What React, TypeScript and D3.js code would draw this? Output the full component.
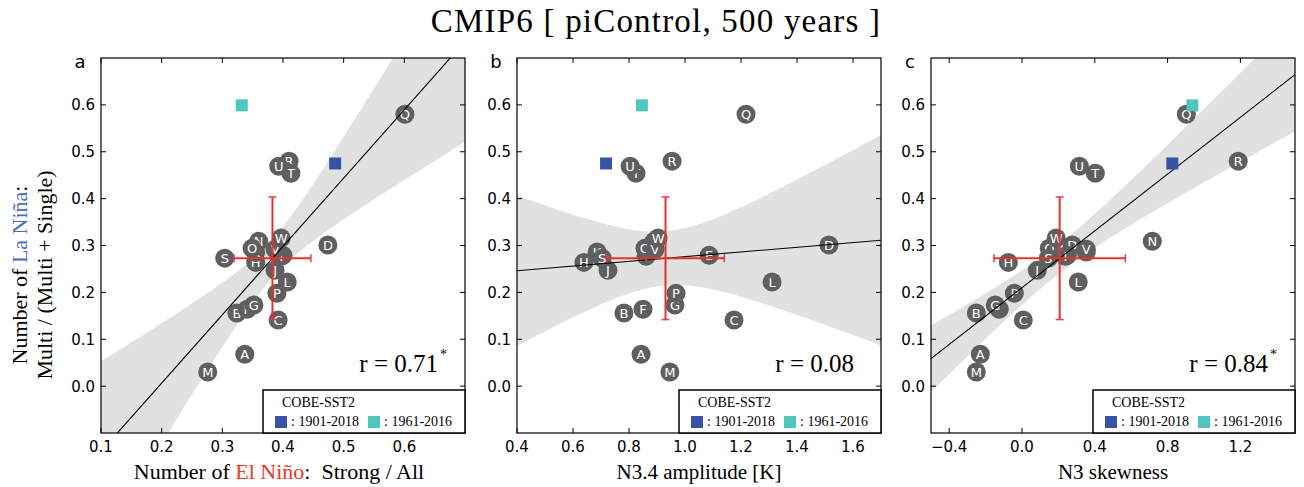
import React from 'react';
import * as d3 from 'd3';

// ---------------- data ----------------
const models = ['A','B','C','D','E','F','G','H','I','J','K','L','M','N','O','P','Q','R','S','T','U','V','W'];
// y: Number of La Nina: Multi / (Multi + Single)
const laNinaMultiFrac = [0.068,0.156,0.141,0.301,0.279,0.164,0.173,0.264,0.277,0.247,0.286,0.222,0.030,0.309,0.294,0.198,0.580,0.480,0.273,0.454,0.469,0.292,0.316];
// panel a x: Number of El Nino: Strong / All
const elNinoStrongFrac = [0.337,0.324,0.392,0.474,0.400,0.341,0.352,0.355,0.397,0.387,0.355,0.407,0.276,0.360,0.349,0.390,0.601,0.410,0.304,0.413,0.393,0.387,0.397];
// panel b x: N3.4 amplitude [K]
const n34Amplitude = [0.843,0.782,1.175,1.514,1.086,0.850,0.964,0.639,0.861,0.725,0.686,1.311,0.946,0.890,0.857,0.968,1.218,0.954,0.704,0.825,0.804,0.893,0.904];
// panel c x: N3 skewness
const n3Skewness = [-0.229,-0.251,0.007,0.276,0.249,-0.125,-0.147,-0.075,0.238,0.084,0.353,0.309,-0.251,0.716,0.150,-0.042,0.903,1.188,0.145,0.403,0.315,0.353,0.188];

// observations (COBE-SST2)
const obsPeriods = ['1901-2018','1961-2016'];
const obsLaNina = [0.475, 0.599];
const obsElNinoStrong = [0.486, 0.332];
const obsN34Amp = [0.718, 0.846];
const obsN3Skew = [0.826, 0.936];

const rLabels = ['0.71','0.08','0.84'];
const rSignificant = [true, false, true];
const panelLetters = ['a','b','c'];
const xTicksA = [0.1,0.2,0.3,0.4,0.5,0.6];
const xTicksB = [0.4,0.6,0.8,1.0,1.2,1.4,1.6];
const xTicksC = [-0.4,0.0,0.4,0.8,1.2];
const yTicks = [0.0,0.1,0.2,0.3,0.4,0.5,0.6];

// ---------------- style / layout ----------------
const W = 1304, H = 487;
const TOP = 58, PH = 375, PW = 364;
const LEFTS = [101, 517, 931];
const XDOMAINS: [number, number][] = [[0.1,0.7],[0.4,1.7],[-0.5,1.5]];
const YDOMAIN: [number, number] = [-0.1, 0.7];
const OBS_COLORS = ['#3753a8', '#4fc7bf'];
const DOT = '#5f5f5f';
const BAND = '#e1e1e1';
const RED = '#e8302c';
const CAP = '#f0306a';
const SERIF = '"Liberation Serif", "Times New Roman", serif';
const SANS = '"DejaVu Sans", sans-serif';
const T_CRIT = 2.080; // t(0.975, 21)

function fit(xs: number[], ys: number[]) {
  const n = xs.length;
  const mx = d3.mean(xs)!, my = d3.mean(ys)!;
  let sxx = 0, sxy = 0;
  xs.forEach((x, i) => { sxx += (x - mx) ** 2; sxy += (x - mx) * (ys[i] - my); });
  const b = sxy / sxx, a = my - b * mx;
  let sse = 0;
  xs.forEach((x, i) => { sse += (ys[i] - a - b * x) ** 2; });
  const s = Math.sqrt(sse / (n - 2));
  return { n, mx, my, sxx, a, b, s };
}

function Panel({ idx, xs, obsX, xTicks }: { idx: number; xs: number[]; obsX: number[]; xTicks: number[] }) {
  const left = LEFTS[idx];
  const x = d3.scaleLinear().domain(XDOMAINS[idx]).range([left, left + PW]);
  const y = d3.scaleLinear().domain(YDOMAIN).range([TOP + PH, TOP]);
  const f = fit(xs, laNinaMultiFrac);
  const grid = d3.range(0, 101).map(i => XDOMAINS[idx][0] + (XDOMAINS[idx][1] - XDOMAINS[idx][0]) * i / 100);
  const band = d3.area<number>()
    .x(d => x(d))
    .y0(d => y(f.a + f.b * d - T_CRIT * f.s * Math.sqrt(1 / f.n + (d - f.mx) ** 2 / f.sxx)))
    .y1(d => y(f.a + f.b * d + T_CRIT * f.s * Math.sqrt(1 / f.n + (d - f.mx) ** 2 / f.sxx)));
  const line = d3.line<number>().x(d => x(d)).y(d => y(f.a + f.b * d));
  const sdx = d3.deviation(xs)!, sdy = d3.deviation(laNinaMultiFrac)!;
  const mx = d3.mean(xs)!, my = d3.mean(laNinaMultiFrac)!;
  const clipId = `clip${idx}`;
  const fmt = d3.format('.1f');
  const tl = 5;
  const capH = 4;
  const legL = left + 162, legT = 390;
  return (
    <g>
      <defs>
        <clipPath id={clipId}><rect x={left} y={TOP} width={PW} height={PH} /></clipPath>
      </defs>
      <g clipPath={`url(#${clipId})`}>
        <path d={band(grid)!} fill={BAND} />
        {xs.map((xv, i) => (
          <g key={models[i]}>
            <circle cx={x(xv)} cy={y(laNinaMultiFrac[i])} r={9.5} fill={DOT} />
            <text x={x(xv)} y={y(laNinaMultiFrac[i]) + 4.5} textAnchor="middle" fontFamily={SANS} fontSize={13} fill="#fff">{models[i]}</text>
          </g>
        ))}
        <path d={line([XDOMAINS[idx][0], XDOMAINS[idx][1]])!} stroke="#000" strokeWidth={1.1} fill="none" />
        {/* model mean +- std */}
        <line x1={x(mx)} x2={x(mx)} y1={y(my - sdy)} y2={y(my + sdy)} stroke={RED} strokeWidth={2} />
        <line x1={x(mx - sdx)} x2={x(mx + sdx)} y1={y(my)} y2={y(my)} stroke={RED} strokeWidth={2} />
        <line x1={x(mx) - capH} x2={x(mx) + capH} y1={y(my - sdy)} y2={y(my - sdy)} stroke={CAP} strokeWidth={1.5} />
        <line x1={x(mx) - capH} x2={x(mx) + capH} y1={y(my + sdy)} y2={y(my + sdy)} stroke={CAP} strokeWidth={1.5} />
        <line x1={x(mx - sdx)} x2={x(mx - sdx)} y1={y(my) - capH} y2={y(my) + capH} stroke={CAP} strokeWidth={1.5} />
        <line x1={x(mx + sdx)} x2={x(mx + sdx)} y1={y(my) - capH} y2={y(my) + capH} stroke={CAP} strokeWidth={1.5} />
        {obsX.map((ox, j) => (
          <rect key={j} x={x(ox) - 6} y={y(obsLaNina[j]) - 6} width={12} height={12} fill={OBS_COLORS[j]} />
        ))}
      </g>
      {/* ticks */}
      {xTicks.map(t => (
        <g key={`xt${t}`}>
          <line x1={x(t)} x2={x(t)} y1={TOP + PH} y2={TOP + PH - tl} stroke="#000" />
          <line x1={x(t)} x2={x(t)} y1={TOP} y2={TOP + tl} stroke="#000" />
          <text x={x(t)} y={TOP + PH + 19} textAnchor="middle" fontFamily={SANS} fontSize={15} fill="#000">{fmt(t)}</text>
        </g>
      ))}
      {yTicks.map(t => (
        <g key={`yt${t}`}>
          <line x1={left} x2={left + tl} y1={y(t)} y2={y(t)} stroke="#000" />
          <line x1={left + PW} x2={left + PW - tl} y1={y(t)} y2={y(t)} stroke="#000" />
          <text x={left - 6} y={y(t) + 5.5} textAnchor="end" fontFamily={SANS} fontSize={15} fill="#000">{fmt(t)}</text>
        </g>
      ))}
      <rect x={left} y={TOP} width={PW} height={PH} fill="none" stroke="#000" strokeWidth={1.2} />
      {/* r label */}
      <text x={left + PW - 27} y={372} textAnchor="end" fontFamily={SERIF} fontSize={25} fill="#000">{`r = ${rLabels[idx]}`}</text>
      {rSignificant[idx] && (
        <text x={left + PW - 25} y={359} fontFamily={SERIF} fontSize={14} fill="#000">*</text>
      )}
      {/* legend */}
      <rect x={legL} y={legT} width={left + PW - legL} height={TOP + PH - legT} fill="#fff" stroke="#000" strokeWidth={1.5} />
      <text x={legL + 19} y={legT + 17} fontFamily={SERIF} fontSize={14} fill="#000">COBE-SST2</text>
      {obsPeriods.map((p, j) => (
        <g key={p}>
          <rect x={legL + 12 + j * 93} y={legT + 26} width={12} height={12} fill={OBS_COLORS[j]} />
          <text x={legL + 28 + j * 93} y={legT + 36} fontFamily={SERIF} fontSize={14} fill="#000">{`: ${p}`}</text>
        </g>
      ))}
      <text x={left - 21} y={68} textAnchor="middle" fontFamily={SANS} fontSize={18} fill="#000">{panelLetters[idx]}</text>
    </g>
  );
}

export default function App() {
  return (
    <svg width={W} height={H} style={{ position: 'absolute', left: 0, top: 0, background: '#fff' }}>
      <rect x={0} y={0} width={W} height={H} fill="#fff" />
      <text x={656} y={32} textAnchor="middle" fontFamily={SERIF} fontSize={33} letterSpacing={1.2} fill="#000" style={{ whiteSpace: 'pre' }}>CMIP6 [ piControl, 500 years ]</text>
      <Panel idx={0} xs={elNinoStrongFrac} obsX={obsElNinoStrong} xTicks={xTicksA} />
      <Panel idx={1} xs={n34Amplitude} obsX={obsN34Amp} xTicks={xTicksB} />
      <Panel idx={2} xs={n3Skewness} obsX={obsN3Skew} xTicks={xTicksC} />
      {/* x labels */}
      <text x={LEFTS[0] + PW / 2 - 4} y={479} textAnchor="middle" fontFamily={SERIF} fontSize={22} fill="#000" style={{ whiteSpace: 'pre' }}>
        Number of <tspan fill="#e8392b">El Niño</tspan>{':  Strong / All'}
      </text>
      <text x={LEFTS[1] + PW / 2} y={479} textAnchor="middle" fontFamily={SERIF} fontSize={21} fill="#000">N3.4 amplitude [K]</text>
      <text x={LEFTS[2] + PW / 2} y={479} textAnchor="middle" fontFamily={SERIF} fontSize={21} fill="#000">N3 skewness</text>
      {/* y label */}
      <text transform="translate(27,275) rotate(-90)" textAnchor="middle" fontFamily={SERIF} fontSize={22} fill="#000">
        Number of <tspan fill="#4a6cc0">La Niña</tspan>:
      </text>
      <text transform="translate(52,275) rotate(-90)" textAnchor="middle" fontFamily={SERIF} fontSize={22} fill="#000">
        Multi / (Multi + Single)
      </text>
    </svg>
  );
}
